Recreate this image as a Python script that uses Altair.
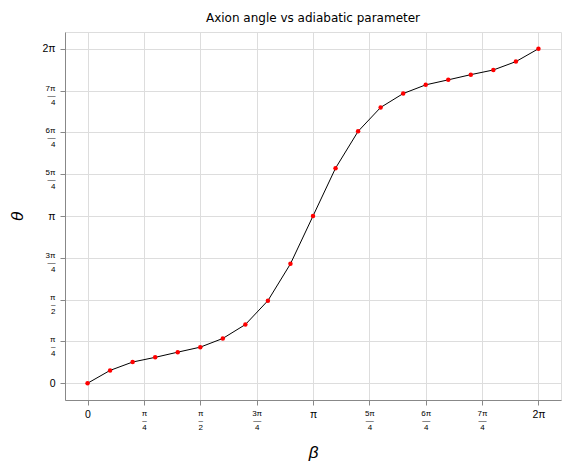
import altair as alt
import pandas as pd

# beta in units of pi, theta in units of pi
beta = [i / 10 for i in range(21)]
theta = [0.0, 0.077, 0.127, 0.155, 0.186, 0.216, 0.268, 0.351, 0.494, 0.714, 1.0,
         1.286, 1.506, 1.649, 1.732, 1.784, 1.814, 1.845, 1.873, 1.923, 2.0]

tick_vals = [0, 0.25, 0.5, 0.75, 1, 1.25, 1.5, 1.75, 2]
tick_num = ["0", "π", "π", "3π", "π", "5π", "6π", "7π", "2π"]
tick_den = ["", "4", "2", "4", "", "4", "4", "4", ""]

df = pd.DataFrame({"beta": beta, "theta": theta})

def label_expr():
    parts = []
    for v, n, d in zip(tick_vals, tick_num, tick_den):
        if d:
            lab = "['%s','%s','%s']" % (n, "—" if len(n) > 1 else "–", d)
        else:
            lab = "'%s'" % n
        parts.append("abs(datum.value - %s) < 1e-6 ? %s : " % (v, lab))
    return "".join(parts) + "''"

is_frac = "abs(datum.value - round(datum.value)) > 1e-6"
frac_size = {"condition": {"test": is_frac, "value": 8}, "value": 10.5}
y_frac_off = {"condition": {"test": is_frac, "value": -2}, "value": 0}

x_axis = alt.Axis(values=tick_vals, labelExpr=label_expr(), title="β", titleFontSize=17,
                  titleFontStyle="italic", titleFontWeight="normal", labelFontSize=frac_size,
                  labelLineHeight=7, labelBaseline="top", labelPadding=4,
                  titleX=248, titleY=52, titleBaseline="middle",
                  grid=True, labelFlush=False)
y_axis = alt.Axis(values=tick_vals, labelExpr=label_expr(), title="θ", titleFontSize=17,
                  titleFontStyle="italic", titleFontWeight="normal", labelFontSize=frac_size,
                  labelLineHeight=7, labelPadding=5, labelOffset=y_frac_off,
                  titleX=-48, titleY=184,
                  titleBaseline="middle", grid=True, labelFlush=False)

xs = alt.Scale(domain=[-0.1, 2.1], nice=False, zero=False)
ys = alt.Scale(domain=[-0.1, 2.1], nice=False, zero=False)

line = alt.Chart(df).mark_line(color="black", strokeWidth=1).encode(
    x=alt.X("beta:Q", scale=xs, axis=x_axis),
    y=alt.Y("theta:Q", scale=ys, axis=y_axis),
)
pts = alt.Chart(df).mark_point(filled=True, color="red", size=20, opacity=1).encode(
    x=alt.X("beta:Q", scale=xs),
    y=alt.Y("theta:Q", scale=ys),
)

chart = (line + pts).properties(
    width=496, height=368,
    title=alt.TitleParams("Axion angle vs adiabatic parameter", fontSize=12,
                          fontWeight="normal", font="DejaVu Sans", offset=7, anchor="middle"),
    autosize=alt.AutoSizeParams(type="none"),
    padding={"left": 57, "top": 24, "right": 1, "bottom": 62},
).configure_view(stroke="black", strokeWidth=1).configure_axis(
    labelFont="DejaVu Sans", titleFont="DejaVu Sans", labelColor="black", titleColor="black",
    domainColor="black", tickColor="black", tickSize=5, gridColor="#a0a0a0", gridWidth=1,
    domain=False,
).configure(background="white")

chart.save("out.html", embed_options={"renderer": "svg", "actions": False})
